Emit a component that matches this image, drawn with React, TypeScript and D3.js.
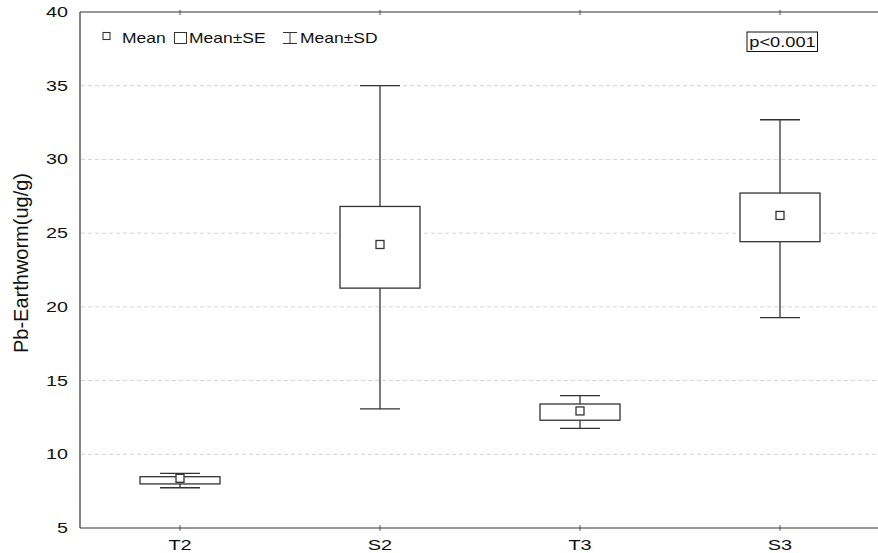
import React, { useEffect, useRef } from 'react';
import * as d3 from 'd3';

// group stats (ug/g)
const groups = ['T2', 'S2', 'T3', 'S3'];
const means = [8.37, 24.23, 12.94, 26.2];
const seLow = [7.99, 21.27, 12.31, 24.42];
const seHigh = [8.48, 26.81, 13.41, 27.72];
const sdLow = [7.73, 13.08, 11.76, 19.27];
const sdHigh = [8.71, 35.0, 13.98, 32.69];
const yTicks = [5, 10, 15, 20, 25, 30, 35, 40];

const W = 878;
const H = 553;
const FONT = 'Liberation Sans, Arial, sans-serif';
const INK = '#333';

const App = () => {
  const ref = useRef<SVGSVGElement>(null);

  useEffect(() => {
    const svg = d3.select(ref.current);
    svg.selectAll('*').remove();

    const left = 80, right = 880, top = 12, bottom = 528;

    const x = d3.scaleBand().domain(groups).range([left, right]);
    const y = d3.scaleLinear().domain([5, 40]).range([bottom, top]);
    const bw = x.bandwidth();

    // the original's text is drawn wide, so stretch it horizontally
    const wtext = (parent: any, tx: number, ty: number, str: string, size: number, sx: number, anchor = 'start') =>
      parent.append('text')
        .attr('transform', `translate(${tx},${ty}) scale(${sx},1)`)
        .attr('text-anchor', anchor)
        .style('font-family', FONT)
        .style('font-size', `${size}px`)
        .attr('fill', '#111')
        .text(str);

    // gridlines
    svg.append('g')
      .selectAll('line')
      .data(yTicks.filter(t => t > 5 && t < 40))
      .enter().append('line')
      .attr('x1', left + 1).attr('x2', right)
      .attr('y1', d => y(d)).attr('y2', d => y(d))
      .attr('stroke', '#d4d4d4')
      .attr('stroke-dasharray', '4,3')
      .attr('stroke-width', 1);

    // frame
    svg.append('line').attr('x1', left).attr('x2', right).attr('y1', top).attr('y2', top)
      .attr('stroke', INK).attr('stroke-width', 1.2);
    svg.append('line').attr('x1', left).attr('x2', right).attr('y1', bottom).attr('y2', bottom)
      .attr('stroke', INK).attr('stroke-width', 1.2);
    svg.append('line').attr('x1', left).attr('x2', left).attr('y1', top).attr('y2', bottom)
      .attr('stroke', INK).attr('stroke-width', 1.2);

    // category ticks top & bottom
    groups.forEach(g => {
      const cx = x(g)! + bw / 2;
      svg.append('line').attr('x1', cx).attr('x2', cx).attr('y1', bottom - 3).attr('y2', bottom + 3)
        .attr('stroke', INK).attr('stroke-width', 0.8);
      svg.append('line').attr('x1', cx).attr('x2', cx).attr('y1', top - 2).attr('y2', top + 3)
        .attr('stroke', INK).attr('stroke-width', 0.8);
    });

    // y tick labels
    yTicks.forEach(t => wtext(svg, 68, y(t) + 5, String(t), 14.5, 1.36, 'end'));

    // x tick labels
    groups.forEach(g => wtext(svg, x(g)! + bw / 2, 550, g, 15, 1.33, 'middle'));

    // y title
    svg.append('text')
      .attr('transform', `translate(28, 263) rotate(-90)`)
      .attr('text-anchor', 'middle')
      .style('font-family', FONT)
      .style('font-size', '20px')
      .attr('fill', '#111')
      .text('Pb-Earthworm(ug/g)');

    // boxes
    const boxW = bw * 0.4;
    const capW = bw * 0.2;
    const msz = 8;
    groups.forEach((g, i) => {
      const cx = x(g)! + bw / 2;
      const gr = svg.append('g').attr('stroke', INK).attr('fill', 'none').attr('stroke-width', 1.3);
      // whiskers
      gr.append('line').attr('x1', cx).attr('x2', cx).attr('y1', y(sdHigh[i])).attr('y2', y(seHigh[i]));
      gr.append('line').attr('x1', cx).attr('x2', cx).attr('y1', y(seLow[i])).attr('y2', y(sdLow[i]));
      gr.append('line').attr('x1', cx - capW / 2).attr('x2', cx + capW / 2).attr('y1', y(sdHigh[i])).attr('y2', y(sdHigh[i]));
      gr.append('line').attr('x1', cx - capW / 2).attr('x2', cx + capW / 2).attr('y1', y(sdLow[i])).attr('y2', y(sdLow[i]));
      // SE box
      gr.append('rect')
        .attr('x', cx - boxW / 2).attr('width', boxW)
        .attr('y', y(seHigh[i])).attr('height', y(seLow[i]) - y(seHigh[i]))
        .attr('fill', 'white');
      // mean marker
      gr.append('rect')
        .attr('x', cx - msz / 2).attr('y', y(means[i]) - msz / 2)
        .attr('width', msz).attr('height', msz)
        .attr('fill', 'white');
    });

    // legend
    const lg = svg.append('g');
    lg.append('rect').attr('x', 103).attr('y', 32.5).attr('width', 7).attr('height', 7)
      .attr('fill', 'white').attr('stroke', INK).attr('stroke-width', 1.1);
    wtext(lg, 122, 43, 'Mean', 14, 1.25);
    lg.append('rect').attr('x', 174.5).attr('y', 32.5).attr('width', 12).attr('height', 11)
      .attr('fill', 'white').attr('stroke', INK).attr('stroke-width', 1);
    wtext(lg, 189, 43, 'Mean±SE', 14, 1.25);
    const ib = lg.append('g').attr('stroke', INK).attr('stroke-width', 1);
    ib.append('line').attr('x1', 283).attr('x2', 297).attr('y1', 32.5).attr('y2', 32.5);
    ib.append('line').attr('x1', 283).attr('x2', 297).attr('y1', 43.5).attr('y2', 43.5);
    ib.append('line').attr('x1', 290).attr('x2', 290).attr('y1', 32.5).attr('y2', 43.5);
    wtext(lg, 300, 43, 'Mean±SD', 14, 1.25);

    // p-value box
    svg.append('rect').attr('x', 747).attr('y', 32).attr('width', 70.5).attr('height', 19.5)
      .attr('fill', 'white').attr('stroke', '#111').attr('stroke-width', 1);
    wtext(svg, 782.5, 46.5, 'p<0.001', 14.5, 1.26, 'middle');
  }, []);

  return (
    <svg ref={ref} width={W} height={H}
      style={{ position: 'fixed', top: 0, left: 0, background: 'white' }} />
  );
};

export default App;
